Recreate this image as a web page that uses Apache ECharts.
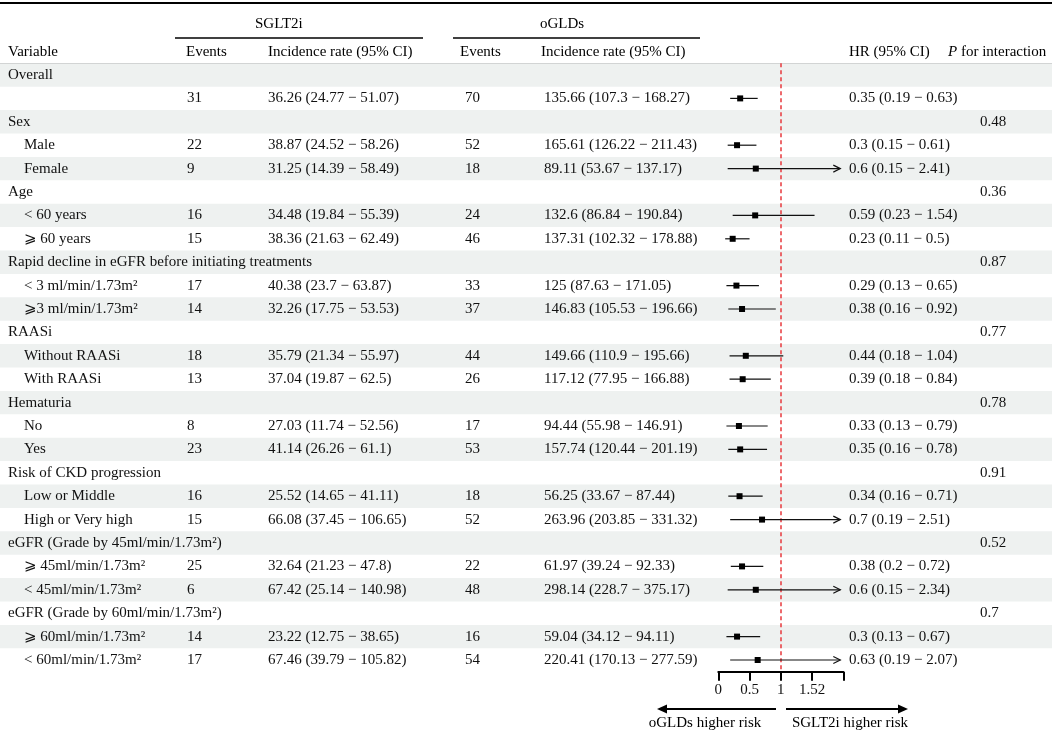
<!DOCTYPE html>
<html>
<head>
<meta charset="utf-8">
<script src="https://cdn.jsdelivr.net/npm/echarts@6/dist/echarts.min.js"></script>
<style>
  html, body { margin: 0; padding: 0; background: #fff; }
  #chart { width: 1052px; height: 732px; }
</style>
</head>
<body>
<div id="chart"></div>
<script>
// rows of the table, top to bottom
const rowLabels = [
  'Overall', '',
  'Sex', 'Male', 'Female',
  'Age', '< 60 years', '\u2A7E 60 years',
  'Rapid decline in eGFR before initiating treatments', '< 3 ml/min/1.73m\u00B2', '\u2A7E3 ml/min/1.73m\u00B2',
  'RAASi', 'Without RAASi', 'With RAASi',
  'Hematuria', 'No', 'Yes',
  'Risk of CKD progression', 'Low or Middle', 'High or Very high',
  'eGFR (Grade by 45ml/min/1.73m\u00B2)', '\u2A7E 45ml/min/1.73m\u00B2', '< 45ml/min/1.73m\u00B2',
  'eGFR (Grade by 60ml/min/1.73m\u00B2)', '\u2A7E 60ml/min/1.73m\u00B2', '< 60ml/min/1.73m\u00B2'
];
const isGroup = [1,0, 1,0,0, 1,0,0, 1,0,0, 1,0,0, 1,0,0, 1,0,0, 1,0,0, 1,0,0];

// SGLT2i
const sgEvents = [null,31, null,22,9, null,16,15, null,17,14, null,18,13, null,8,23, null,16,15, null,25,6, null,14,17];
const sgRate = [null,36.26, null,38.87,31.25, null,34.48,38.36, null,40.38,32.26, null,35.79,37.04, null,27.03,41.14, null,25.52,66.08, null,32.64,67.42, null,23.22,67.46];
const sgLo = [null,24.77, null,24.52,14.39, null,19.84,21.63, null,23.7,17.75, null,21.34,19.87, null,11.74,26.26, null,14.65,37.45, null,21.23,25.14, null,12.75,39.79];
const sgHi = [null,51.07, null,58.26,58.49, null,55.39,62.49, null,63.87,53.53, null,55.97,62.5, null,52.56,61.1, null,41.11,106.65, null,47.8,140.98, null,38.65,105.82];

// oGLDs
const ogEvents = [null,70, null,52,18, null,24,46, null,33,37, null,44,26, null,17,53, null,18,52, null,22,48, null,16,54];
const ogRate = [null,135.66, null,165.61,89.11, null,132.6,137.31, null,125,146.83, null,149.66,117.12, null,94.44,157.74, null,56.25,263.96, null,61.97,298.14, null,59.04,220.41];
const ogLo = [null,107.3, null,126.22,53.67, null,86.84,102.32, null,87.63,105.53, null,110.9,77.95, null,55.98,120.44, null,33.67,203.85, null,39.24,228.7, null,34.12,170.13];
const ogHi = [null,168.27, null,211.43,137.17, null,190.84,178.88, null,171.05,196.66, null,195.66,166.88, null,146.91,201.19, null,87.44,331.32, null,92.33,375.17, null,94.11,277.59];

// hazard ratios
const hr = [null,0.35, null,0.3,0.6, null,0.59,0.23, null,0.29,0.38, null,0.44,0.39, null,0.33,0.35, null,0.34,0.7, null,0.38,0.6, null,0.3,0.63];
const hrLo = [null,0.19, null,0.15,0.15, null,0.23,0.11, null,0.13,0.16, null,0.18,0.18, null,0.13,0.16, null,0.16,0.19, null,0.2,0.15, null,0.13,0.19];
const hrHi = [null,0.63, null,0.61,2.41, null,1.54,0.5, null,0.65,0.92, null,1.04,0.84, null,0.79,0.78, null,0.71,2.51, null,0.72,2.34, null,0.67,2.07];

const pInteraction = [null,null, 0.48,null,null, 0.36,null,null, 0.87,null,null, 0.77,null,null, 0.78,null,null, 0.91,null,null, 0.52,null,null, 0.7,null,null];

const axisTicks = [0, 0.5, 1, 1.5, 2];
const axisTickLabels = ['0', '0.5', '1', '1.52', ''];

// layout
const FONT = "'Liberation Serif', 'Times New Roman', 'DejaVu Serif', 'DejaVu Sans', serif";
const FS = 15;
const cols = { label: 8, sub: 24, sgEv: 187, sgRate: 268, ogEv: 465, ogRate: 544, hr: 849, p: 980 };
const TOP = 63.3, ROWS_H = 608.4;
const X0 = 718.3, XW = 125;

const ci = (r, lo, hi) => r + ' (' + lo + ' \u2212 ' + hi + ')';
const rowIdx = rowLabels.map((_, i) => String(i));

const chart = echarts.init(document.getElementById('chart'), null, { renderer: 'canvas' });

function txt(x, y, s) {
  return { type: 'text', style: { x: x, y: y, text: s, fill: '#111', font: FS + 'px ' + FONT, verticalAlign: 'middle' } };
}

function renderStripe(params, api) {
  const i = api.value(0);
  if (i % 2 !== 0) return;
  const y = api.coord([0, i])[1];
  const h = api.size([0, 1])[1];
  return { type: 'rect', shape: { x: 0, y: y - h / 2, width: 1052, height: h }, style: { fill: '#eef1f0' } };
}

function renderRow(params, api) {
  const i = api.value(0);
  const y = api.coord([0, i])[1];
  const kids = [txt(isGroup[i] ? cols.label : cols.sub, y, rowLabels[i])];
  if (sgEvents[i] != null) {
    kids.push(txt(cols.sgEv, y, String(sgEvents[i])));
    kids.push(txt(cols.sgRate, y, ci(sgRate[i], sgLo[i], sgHi[i])));
    kids.push(txt(cols.ogEv, y, String(ogEvents[i])));
    kids.push(txt(cols.ogRate, y, ci(ogRate[i], ogLo[i], ogHi[i])));
    kids.push(txt(cols.hr, y, ci(hr[i], hrLo[i], hrHi[i])));
  }
  if (pInteraction[i] != null) kids.push(txt(cols.p, y, String(pInteraction[i])));
  return { type: 'group', children: kids };
}

function renderForest(params, api) {
  const row = api.value(0);
  const m = api.value(1), lo = api.value(2), hi = api.value(3);
  const pm = api.coord([m, row]);
  const pl = api.coord([lo, row]);
  const clipped = hi > 2;
  const ph = api.coord([clipped ? 2 : hi, row]);
  const tipX = clipped ? ph[0] - 3 : ph[0];
  const kids = [
    { type: 'line', shape: { x1: pl[0], y1: pl[1], x2: tipX, y2: ph[1] }, style: { stroke: '#111', lineWidth: 1.2 } },
    { type: 'rect', shape: { x: pm[0] - 3, y: pm[1] - 3, width: 6, height: 6 }, style: { fill: '#000' } }
  ];
  if (clipped) {
    kids.push({ type: 'polyline', shape: { points: [[tipX - 7, ph[1] - 3.5], [tipX, ph[1]], [tipX - 7, ph[1] + 3.5]] },
      style: { stroke: '#111', lineWidth: 1.2, fill: null } });
  }
  return { type: 'group', children: kids };
}

const forestData = [];
hr.forEach((v, i) => { if (v != null) forestData.push([i, v, hrLo[i], hrHi[i]]); });

function arrowGraphic(x1, x2, y) {
  const dir = x2 > x1 ? 1 : -1;
  return [
    { type: 'line', shape: { x1: x1, y1: y, x2: x2 - dir * 8, y2: y }, style: { stroke: '#000', lineWidth: 2.2 } },
    { type: 'polygon', shape: { points: [[x2, y], [x2 - dir * 10, y - 4.5], [x2 - dir * 10, y + 4.5]] }, style: { fill: '#000' } }
  ];
}

const headerFont = FS + 'px ' + FONT;
const hText = (x, y, s, extra) => ({ type: 'text', x: x, y: y, style: Object.assign({ text: s, fill: '#000', font: headerFont, verticalAlign: 'middle' }, extra || {}) });

const option = {
  animation: false,
  backgroundColor: '#fff',
  grid: [
    { left: 0, top: TOP, width: 1052, height: ROWS_H },
    { left: X0, top: TOP, width: XW, height: ROWS_H }
  ],
  xAxis: [
    { gridIndex: 0, type: 'value', min: 0, max: 1052, show: false },
    {
      gridIndex: 1, type: 'value', min: 0, max: 2, interval: 0.5,
      axisLine: { show: true, lineStyle: { color: '#000', width: 2 } },
      axisTick: { show: true, length: 9, lineStyle: { color: '#000', width: 2 } },
      axisLabel: {
        margin: 11, color: '#111', fontSize: FS, fontFamily: FONT,
        formatter: v => { const k = axisTicks.indexOf(+v.toFixed(2)); return k >= 0 ? axisTickLabels[k] : ''; }
      },
      splitLine: { show: false }
    }
  ],
  yAxis: [
    { gridIndex: 0, type: 'category', data: rowIdx, inverse: true, show: false },
    { gridIndex: 1, type: 'category', data: rowIdx, inverse: true, show: false }
  ],
  series: [
    {
      type: 'custom', xAxisIndex: 0, yAxisIndex: 0, z: 1, silent: true,
      data: rowIdx.map(i => [+i]), encode: { y: 0 }, renderItem: renderStripe
    },
    {
      type: 'custom', xAxisIndex: 0, yAxisIndex: 0, z: 3, silent: true,
      data: rowIdx.map(i => [+i]), encode: { y: 0 }, renderItem: renderRow
    },
    {
      type: 'line', xAxisIndex: 1, yAxisIndex: 1, data: [], z: 4,
      markLine: {
        silent: true, symbol: 'none', label: { show: false },
        lineStyle: { color: '#e8383d', type: [4, 3], width: 1.5 },
        data: [{ xAxis: 1 }]
      }
    },
    {
      type: 'custom', xAxisIndex: 1, yAxisIndex: 1, z: 5, silent: true,
      data: forestData, encode: { x: [1, 2, 3], y: 0 }, renderItem: renderForest
    }
  ],
  graphic: [
    { type: 'line', shape: { x1: 0, y1: 3, x2: 1052, y2: 3 }, style: { stroke: '#000', lineWidth: 2 } },
    hText(255, 24, 'SGLT2i'),
    hText(540, 24, 'oGLDs'),
    { type: 'line', shape: { x1: 175, y1: 38, x2: 423, y2: 38 }, style: { stroke: '#000', lineWidth: 1.6 } },
    { type: 'line', shape: { x1: 453, y1: 38, x2: 700, y2: 38 }, style: { stroke: '#000', lineWidth: 1.6 } },
    hText(8, 52, 'Variable'),
    hText(186, 52, 'Events'),
    hText(268, 52, 'Incidence rate (95% CI)'),
    hText(460, 52, 'Events'),
    hText(541, 52, 'Incidence rate (95% CI)'),
    hText(849, 52, 'HR (95% CI)'),
    {
      type: 'text', x: 948, y: 52,
      style: { rich: { i: { fontStyle: 'italic', fontSize: FS, fontFamily: FONT, fill: '#000' }, n: { fontSize: FS, fontFamily: FONT, fill: '#000' } },
        text: '{i|P}{n| for interaction}', verticalAlign: 'middle' }
    },
    { type: 'line', shape: { x1: 0, y1: 64, x2: 1052, y2: 64 }, style: { stroke: '#000', lineWidth: 1.2 } },
    ...arrowGraphic(776, 657, 709),
    ...arrowGraphic(786, 908, 709),
    hText(705, 723, 'oGLDs higher risk', { align: 'center' }),
    hText(850, 723, 'SGLT2i higher risk', { align: 'center' })
  ]
};

chart.setOption(option);
</script>
</body>
</html>
